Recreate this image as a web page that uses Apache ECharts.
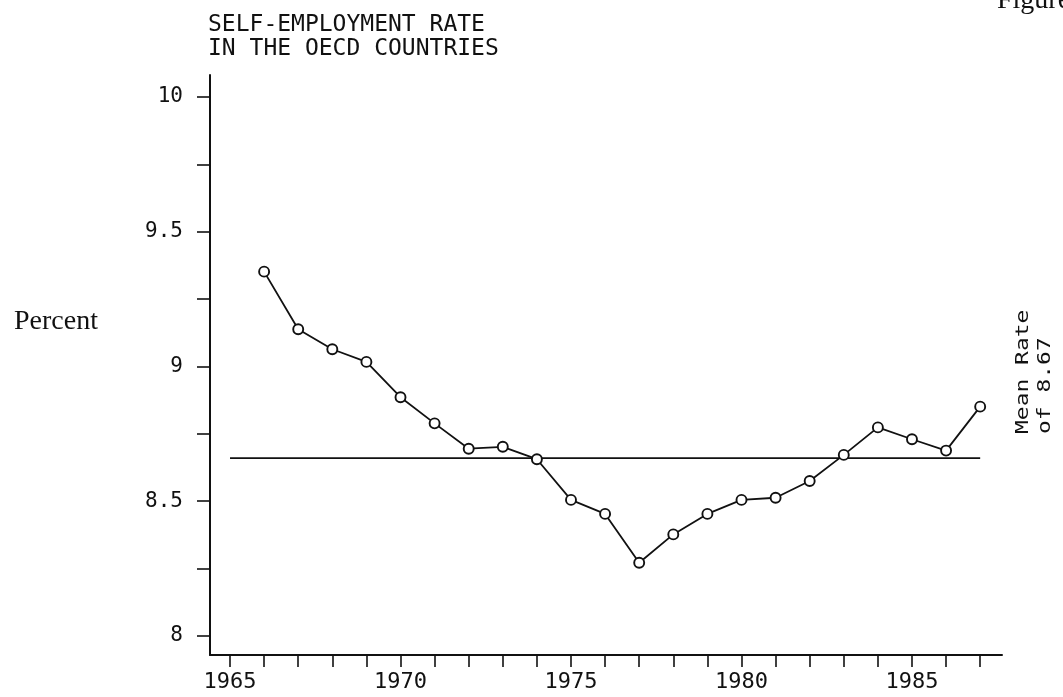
<!DOCTYPE html>
<html>
<head>
<meta charset="utf-8">
<script src="https://cdn.jsdelivr.net/npm/echarts@6/dist/echarts.min.js"></script>
<style>
html,body{margin:0;padding:0;background:#fff;}
#c{width:1063px;height:697px;}
</style>
</head>
<body>
<div id="c"></div>
<script>
// ---- data ----
var years = [1966,1967,1968,1969,1970,1971,1972,1973,1974,1975,1976,1977,1978,1979,1980,1981,1982,1983,1984,1985,1986,1987];
var rates = [9.352,9.138,9.064,9.017,8.886,8.789,8.695,8.702,8.656,8.505,8.453,8.272,8.377,8.453,8.505,8.513,8.575,8.672,8.774,8.730,8.688,8.851];
var meanRate = 8.66;
var meanStart = 1965, meanEnd = 1987;
var xTickValues = [1965,1966,1967,1968,1969,1970,1971,1972,1973,1974,1975,1976,1977,1978,1979,1980,1981,1982,1983,1984,1985,1986,1987];
var xLabelValues = [1965,1970,1975,1980,1985];
var yTickValues = [8,8.25,8.5,8.75,9,9.25,9.5,9.75,10];
var yLabelValues = [8,8.5,9,9.5,10];
var titleLines = ['SELF-EMPLOYMENT RATE','IN THE OECD COUNTRIES'];

var mono = '"DejaVu Sans Mono", monospace';
var serif = '"Liberation Serif", "DejaVu Serif", serif';
var ink = '#111';

var chart = echarts.init(document.getElementById('c'), null, {renderer:'canvas'});
var seriesData = years.map(function(y,i){return [y, rates[i]];});
var meanData = [[meanStart, meanRate],[meanEnd, meanRate]];

chart.setOption({
  backgroundColor:'#fff',
  animation:false,
  grid:{left:210, right:61, top:75, bottom:42, containLabel:false},
  xAxis:{
    type:'value', min:1964.413, max:1987.64,
    axisLine:{show:true, onZero:false, lineStyle:{color:ink, width:2}},
    axisTick:{show:true, inside:false, length:12, lineStyle:{color:ink, width:1.6}, customValues:xTickValues},
    axisLabel:{show:true, margin:16, color:ink, fontFamily:mono, fontSize:22, customValues:xLabelValues,
      formatter:function(v){return String(v);}},
    splitLine:{show:false}
  },
  yAxis:{
    type:'value', min:7.9295, max:10.0816,
    axisLine:{show:true, onZero:false, lineStyle:{color:ink, width:2}},
    axisTick:{show:true, inside:false, length:13, lineStyle:{color:ink, width:1.6}, customValues:yTickValues},
    axisLabel:{show:true, margin:27, color:ink, fontFamily:mono, fontSize:21, customValues:yLabelValues,
      formatter:function(v){return String(v);}},
    splitLine:{show:false}
  },
  series:[
    {type:'line', data:meanData, symbol:'none', lineStyle:{color:ink, width:1.8}, z:1, silent:true},
    {type:'line', data:seriesData, symbol:'circle', symbolSize:10,
      itemStyle:{color:'#fff', borderColor:ink, borderWidth:1.9},
      lineStyle:{color:ink, width:1.8}, z:2, silent:true}
  ],
  graphic:[
    {type:'text', left:208, top:14, style:{text:titleLines[0], font:'23px '+mono, fill:ink}},
    {type:'text', left:208, top:38, style:{text:titleLines[1], font:'23px '+mono, fill:ink}},
    {type:'text', x:98, y:322, style:{text:'Percent', font:'28px '+serif, fill:ink, textAlign:'right', textVerticalAlign:'middle'}},
    {type:'text', x:997, y:1, style:{text:'Figure', font:'28px '+serif, fill:ink, textAlign:'left', textVerticalAlign:'middle'}},
    {type:'text', x:1024, y:434, rotation:Math.PI/2, scaleX:1.35, style:{text:'Mean Rate', font:'17px '+mono, fill:ink, textAlign:'left', textVerticalAlign:'middle'}},
    {type:'text', x:1046, y:434, rotation:Math.PI/2, scaleX:1.35, style:{text:'of 8.67', font:'17px '+mono, fill:ink, textAlign:'left', textVerticalAlign:'middle'}}
  ]
});
</script>
</body>
</html>
